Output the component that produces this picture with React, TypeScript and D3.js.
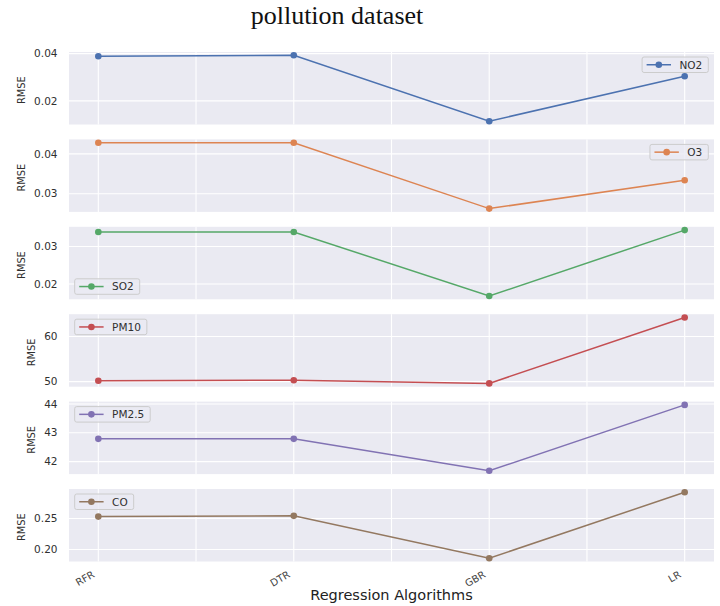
import React from "react";
import * as d3 from "d3";

// Regression algorithms on the x axis
const categories = ["RFR", "DTR", "GBR", "LR"];

// RMSE per pollutant
const no2 = [0.0389, 0.0393, 0.0114, 0.0304];
const o3 = [0.0428, 0.0428, 0.0263, 0.0334];
const so2 = [0.0339, 0.0339, 0.0168, 0.0344];
const pm10 = [50.2, 50.3, 49.6, 64.2];
const pm25 = [42.79, 42.79, 41.68, 43.97];
const co = [0.2532, 0.2544, 0.186, 0.2924];

// Y tick values per panel
const no2Ticks = [0.02, 0.04];
const o3Ticks = [0.03, 0.04];
const so2Ticks = [0.02, 0.03];
const pm10Ticks = [50, 60];
const pm25Ticks = [42, 43, 44];
const coTicks = [0.2, 0.25];

const seriesNames = ["NO2", "O3", "SO2", "PM10", "PM2.5", "CO"];
const seriesValues = [no2, o3, so2, pm10, pm25, co];
const seriesTicks = [no2Ticks, o3Ticks, so2Ticks, pm10Ticks, pm25Ticks, coTicks];
const tickDecimals = [2, 2, 2, 0, 0, 2];
const legendLoc = ["upper right", "upper right", "lower left", "upper left", "upper left", "upper left"];
const colors = ["#4C72B0", "#DD8452", "#55A868", "#C44E52", "#8172B3", "#937860"];

const W = 720;
const H = 606;
const axLeft = 69;
const axRight = 714;
const top0 = 52;
const pitch = 87.4;
const panelH = 72.5;

const FONT = "'DejaVu Sans', sans-serif";
const TEXT = "#303030";
const tickFs = 10.5;

function textWidth(s: string, fs: number) {
  // approximate DejaVu Sans advance widths
  const table: Record<string, number> = {
    ".": 0.318, "0": 0.636, "1": 0.636, "2": 0.636, "3": 0.636, "4": 0.636,
    "5": 0.636, "6": 0.636, "7": 0.636, "8": 0.636, "9": 0.636,
    N: 0.748, O: 0.787, S: 0.635, P: 0.603, M: 0.863, C: 0.698,
  };
  let w = 0;
  for (const c of s) w += table[c] ?? 0.62;
  return w * fs;
}

// numeric x positions 0..3 with 5% margins on each side
const xs = d3.scaleLinear().domain([-0.15, 3.15]).range([axLeft, axRight]);
const xGrid = d3.range(0, 3.01, 0.5);

function Panel({ idx }: { idx: number }) {
  const values = seriesValues[idx];
  const ticks = seriesTicks[idx];
  const color = colors[idx];
  const top = top0 + idx * pitch;
  const bottom = top + panelH;
  const [mn, mx] = d3.extent(values) as [number, number];
  const pad = (mx - mn) * 0.05;
  const y = d3.scaleLinear().domain([mn - pad, mx + pad]).range([bottom, top]);
  const line = d3
    .line<number>()
    .x((_, i) => xs(i))
    .y((v) => y(v));
  const labels = ticks.map((t) => t.toFixed(tickDecimals[idx]));
  const maxW = d3.max(labels, (l) => textWidth(l, tickFs)) as number;
  const tickRight = 57.5;
  const ylabCenter = tickRight - maxW - 12.6;

  // legend box
  const name = seriesNames[idx];
  const boxH = 15.5;
  const boxW = 4.5 + 24.4 + 8.5 + textWidth(name, tickFs) + 6;
  const loc = legendLoc[idx];
  const bx = loc.includes("right") ? axRight - 5.7 - boxW : axLeft + 5.7;
  const by = loc.includes("upper") ? top + 5 : bottom - 5 - boxH;
  const cy = by + boxH / 2;

  return (
    <g>
      <rect x={axLeft} y={top} width={axRight - axLeft} height={panelH} fill="#EAEAF2" />
      {xGrid.map((g) => (
        <line key={"v" + g} x1={xs(g)} x2={xs(g)} y1={top} y2={bottom} stroke="#fff" strokeWidth={1.1} />
      ))}
      {ticks.map((t, i) => (
        <g key={"t" + i}>
          <line x1={axLeft} x2={axRight} y1={y(t)} y2={y(t)} stroke="#fff" strokeWidth={1.1} />
          <text
            x={tickRight}
            y={y(t)}
            dy="0.35em"
            textAnchor="end"
            fontSize={tickFs}
            fontFamily={FONT}
            fill={TEXT}
          >
            {labels[i]}
          </text>
        </g>
      ))}
      <path d={line(values) || ""} fill="none" stroke={color} strokeWidth={1.5} />
      {values.map((v, i) => (
        <circle key={"m" + i} cx={xs(i)} cy={y(v)} r={3.3} fill={color} />
      ))}
      <text
        transform={`translate(${ylabCenter + 3.6},${(top + bottom) / 2 + 2}) rotate(-90)`}
        textAnchor="middle"
        fontSize={9.8}
        fontFamily={FONT}
        fill={TEXT}
      >
        RMSE
      </text>
      <rect
        x={bx}
        y={by}
        width={boxW}
        height={boxH}
        rx={2}
        fill="#EAEAF2"
        fillOpacity={0.8}
        stroke="#cccccc"
        strokeWidth={1}
      />
      <line x1={bx + 4.5} x2={bx + 4.5 + 24.4} y1={cy} y2={cy} stroke={color} strokeWidth={1.5} />
      <circle cx={bx + 4.5 + 12.2} cy={cy} r={3.3} fill={color} />
      <text
        x={bx + 4.5 + 24.4 + 8.5}
        y={cy}
        dy="0.36em"
        fontSize={tickFs}
        fontFamily={FONT}
        fill={TEXT}
      >
        {name}
      </text>
    </g>
  );
}

export default function App() {
  const lastBottom = top0 + 5 * pitch + panelH;
  return (
    <div style={{ position: "absolute", left: 0, top: 0 }}>
      <svg width={W} height={H} style={{ display: "block", background: "#fff" }}>
        <text
          x={337}
          y={24}
          textAnchor="middle"
          fontSize={26}
          fontFamily="'Liberation Serif', 'Times New Roman', serif"
          fill="#111"
        >
          pollution dataset
        </text>
        {seriesNames.map((_, i) => (
          <Panel key={i} idx={i} />
        ))}
        {categories.map((c, i) => (
          <text
            key={c}
            transform={`translate(${xs(i) - 3},${lastBottom + 15}) rotate(-30)`}
            textAnchor="end"
            fontSize={10}
            fontFamily={FONT}
            fill="#444"
          >
            {c}
          </text>
        ))}
        <text
          x={(axLeft + axRight) / 2}
          y={600}
          textAnchor="middle"
          fontSize={14.5}
          fontFamily={FONT}
          fill="#222"
        >
          Regression Algorithms
        </text>
      </svg>
    </div>
  );
}
